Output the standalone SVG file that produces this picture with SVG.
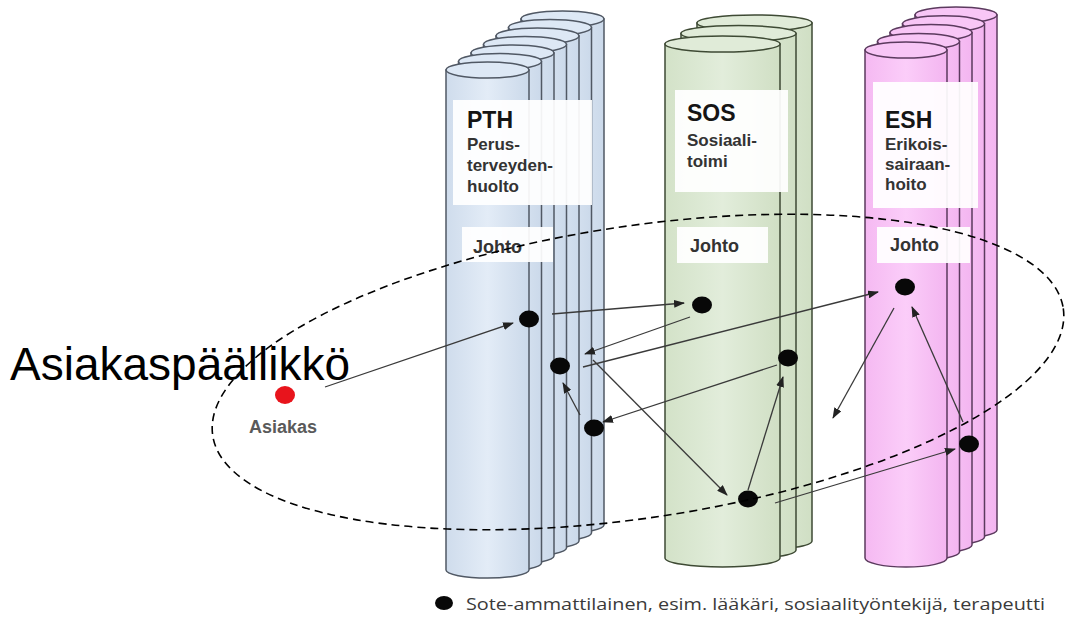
<svg xmlns="http://www.w3.org/2000/svg" width="1066" height="617" viewBox="0 0 1066 617">
<defs>
<linearGradient id="gB" x1="0" x2="1" y1="0" y2="0"><stop offset="0" stop-color="#cfdcec"/><stop offset="0.5" stop-color="#e3ecf7"/><stop offset="1" stop-color="#cbd9ea"/></linearGradient>
<linearGradient id="gG" x1="0" x2="1" y1="0" y2="0"><stop offset="0" stop-color="#d3e2c8"/><stop offset="0.5" stop-color="#e2eddb"/><stop offset="1" stop-color="#d0dfc4"/></linearGradient>
<linearGradient id="gP" x1="0" x2="1" y1="0" y2="0"><stop offset="0" stop-color="#f5b9f2"/><stop offset="0.5" stop-color="#fbcdf9"/><stop offset="1" stop-color="#f3b5f0"/></linearGradient>
<marker id="ah" markerWidth="11" markerHeight="8" refX="10" refY="4" orient="auto" markerUnits="userSpaceOnUse"><path d="M0,0 L11,4 L0,8 Z" fill="#222"/></marker>
<style>
.pb{fill:url(#gB);stroke:#505864;stroke-width:1.5}
.pt{fill:#dde8f5;stroke:#505864;stroke-width:1.5}
.sb{fill:url(#gG);stroke:#3e4a34;stroke-width:1.5}
.st{fill:#e0ebd8;stroke:#3e4a34;stroke-width:1.5}
.eb{fill:url(#gP);stroke:#5b3a5e;stroke-width:1.5}
.et{fill:#f8c6f6;stroke:#5b3a5e;stroke-width:1.5}
.box{fill:#ffffff;fill-opacity:0.93}
.ttl{font-family:"Liberation Sans",Arial,sans-serif;font-weight:bold;font-size:23px;fill:#151515}
.sub{font-family:"Liberation Sans",Arial,sans-serif;font-weight:bold;font-size:17px;fill:#333}
.jo{font-family:"Liberation Sans",Arial,sans-serif;font-weight:bold;font-size:18px;fill:#333}
.dot{fill:#080808}
.arr{stroke:#3a3a3a;stroke-width:1.3;fill:none;marker-end:url(#ah)}
</style>
</defs>
<rect width="1066" height="617" fill="#ffffff"/>

<g id="col-pth">
<path class="pb" d="M521,19 L521,525 A41.5,8 0 0 0 604,525 L604,19 Z"/><ellipse class="pt" cx="562.5" cy="19" rx="41.5" ry="8"/>
<path class="pb" d="M508.5,27.5 L508.5,533 A41.5,8 0 0 0 591.5,533 L591.5,27.5 Z"/><ellipse class="pt" cx="550" cy="27.5" rx="41.5" ry="8"/>
<path class="pb" d="M496,36 L496,541 A41.5,8 0 0 0 579,541 L579,36 Z"/><ellipse class="pt" cx="537.5" cy="36" rx="41.5" ry="8"/>
<path class="pb" d="M483.5,44.5 L483.5,548 A41.5,8 0 0 0 566.5,548 L566.5,44.5 Z"/><ellipse class="pt" cx="525" cy="44.5" rx="41.5" ry="8"/>
<path class="pb" d="M471,53 L471,556 A41.5,8 0 0 0 554,556 L554,53 Z"/><ellipse class="pt" cx="512.5" cy="53" rx="41.5" ry="8"/>
<path class="pb" d="M458.5,61.5 L458.5,563 A41.5,8 0 0 0 541.5,563 L541.5,61.5 Z"/><ellipse class="pt" cx="500" cy="61.5" rx="41.5" ry="8"/>
<path class="pb" d="M446,70 L446,570 A41.5,8 0 0 0 529,570 L529,70 Z"/><ellipse class="pt" cx="487.5" cy="70" rx="41.5" ry="8"/>
<rect class="box" x="453" y="100" width="139" height="105"/>
<text class="ttl" x="467" y="128">PTH</text>
<text class="sub" x="467" y="150">Perus-</text>
<text class="sub" x="467" y="171">terveyden-</text>
<text class="sub" x="467" y="192">huolto</text>
<rect class="box" x="462" y="227" width="91" height="35"/>
<text class="jo" x="473" y="253">Johto</text>
</g>

<g id="col-sos">
<path class="sb" d="M697,23 L697,541 A57.5,9 0 0 0 812,541 L812,23 Z"/><ellipse class="st" cx="754.5" cy="23" rx="57.5" ry="8"/>
<path class="sb" d="M681,33.5 L681,550 A57.5,9 0 0 0 796,550 L796,33.5 Z"/><ellipse class="st" cx="738.5" cy="33.5" rx="57.5" ry="8"/>
<path class="sb" d="M665,44 L665,558 A57.5,9 0 0 0 780,558 L780,44 Z"/><ellipse class="st" cx="722.5" cy="44" rx="57.5" ry="8"/>
<rect class="box" x="675" y="90" width="113" height="102"/>
<text class="ttl" x="687" y="121">SOS</text>
<text class="sub" x="687" y="146">Sosiaali-</text>
<text class="sub" x="687" y="167">toimi</text>
<rect class="box" x="677" y="227" width="91" height="36"/>
<text class="jo" x="690" y="252">Johto</text>
</g>

<g id="col-esh">
<path class="eb" d="M915,15 L915,530 A41,8 0 0 0 997,530 L997,15 Z"/><ellipse class="et" cx="956" cy="15" rx="41" ry="8"/>
<path class="eb" d="M902.5,23.8 L902.5,537 A41,8 0 0 0 984.5,537 L984.5,23.8 Z"/><ellipse class="et" cx="943.5" cy="23.8" rx="41" ry="8"/>
<path class="eb" d="M890,32.6 L890,545 A41,8 0 0 0 972,545 L972,32.6 Z"/><ellipse class="et" cx="931" cy="32.6" rx="41" ry="8"/>
<path class="eb" d="M877.5,41.4 L877.5,552 A41,8 0 0 0 959.5,552 L959.5,41.4 Z"/><ellipse class="et" cx="918.5" cy="41.4" rx="41" ry="8"/>
<path class="eb" d="M865,50 L865,558 A41,9 0 0 0 947,558 L947,50 Z"/><ellipse class="et" cx="906" cy="50" rx="41" ry="8"/>
<rect class="box" x="873" y="82" width="105" height="126"/>
<text class="ttl" x="885" y="128">ESH</text>
<text class="sub" x="885" y="150">Erikois-</text>
<text class="sub" x="885" y="170">sairaan-</text>
<text class="sub" x="885" y="190">hoito</text>
<rect class="box" x="877" y="227" width="93" height="36"/>
<text class="jo" x="890" y="251">Johto</text>
</g>

<g id="connectors">
<line class="arr" x1="325" y1="387" x2="513" y2="323"/>
<line class="arr" x1="552" y1="314" x2="684" y2="303"/>
<line class="arr" x1="690" y1="317" x2="585" y2="354"/>
<line class="arr" x1="583" y1="367" x2="878" y2="292"/>
<line class="arr" x1="593" y1="360" x2="727" y2="495"/>
<line class="arr" x1="580" y1="415" x2="563" y2="383"/>
<line class="arr" x1="777" y1="365" x2="603" y2="422"/>
<line class="arr" x1="748" y1="490" x2="783" y2="377"/>
<line class="arr" x1="894" y1="308" x2="833" y2="418"/>
<line class="arr" x1="963" y1="422" x2="912" y2="307"/>
<line class="arr" x1="775" y1="503" x2="955" y2="449"/>
</g>

<g id="node-asiakas">
<ellipse cx="285" cy="395" rx="10" ry="9" fill="#e8141c"/>
<text x="283" y="433" text-anchor="middle" font-family="Liberation Sans, Arial, sans-serif" font-size="18" font-weight="bold" fill="#5a5a5a">Asiakas</text>
</g>
<g id="node-a"><ellipse class="dot" cx="529" cy="319" rx="10" ry="8.5"/></g>
<g id="node-b"><ellipse class="dot" cx="702" cy="305" rx="10" ry="8.5"/></g>
<g id="node-c"><ellipse class="dot" cx="560" cy="366" rx="10" ry="8.5"/></g>
<g id="node-d"><ellipse class="dot" cx="594" cy="428" rx="10" ry="8.5"/></g>
<g id="node-e"><ellipse class="dot" cx="788" cy="358" rx="10" ry="8.5"/></g>
<g id="node-f"><ellipse class="dot" cx="748" cy="499" rx="10" ry="8.5"/></g>
<g id="node-g"><ellipse class="dot" cx="905" cy="287" rx="10" ry="8.5"/></g>
<g id="node-h"><ellipse class="dot" cx="969" cy="444" rx="10" ry="8.5"/></g>

<g id="boundary">
<ellipse cx="638" cy="372" rx="430" ry="146" transform="rotate(-8.5 638 372)" fill="none" stroke="#000" stroke-width="1.6" stroke-dasharray="8 5"/>
</g>

<g id="label-asiakaspaallikko">
<text x="10" y="380" font-family="Liberation Sans, Arial, sans-serif" font-size="46" fill="#000">Asiakaspäällikkö</text>
</g>

<g id="legend">
<ellipse class="dot" cx="444" cy="603" rx="9" ry="7"/>
<text x="466" y="610" font-family="Open Sans, Liberation Sans, sans-serif" font-size="17" fill="#3a3a3a" textLength="579" lengthAdjust="spacingAndGlyphs">Sote-ammattilainen, esim. lääkäri, sosiaalityöntekijä, terapeutti</text>
</g>
</svg>
